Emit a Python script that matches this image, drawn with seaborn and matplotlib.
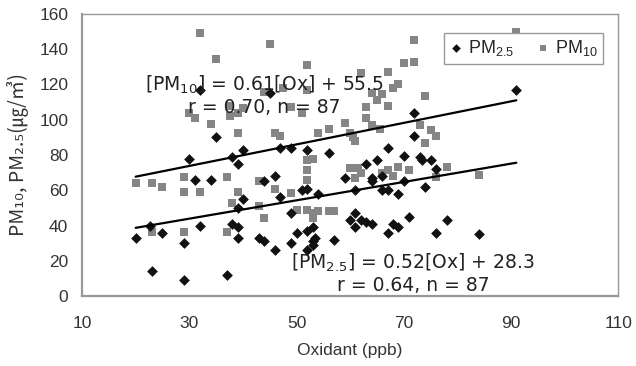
import matplotlib
matplotlib.use("Agg")
import matplotlib.pyplot as plt
import seaborn as sns
import numpy as np
import pandas as pd

# ---- data ----
pm25_x = [20, 22.6, 23, 25, 29, 29, 30, 31, 32, 32, 34, 35, 37, 38, 38, 39, 39, 39, 39, 40,
          40, 43, 44, 44, 45, 46, 46, 47, 47, 49, 49, 49, 50, 51, 52, 52, 52, 52, 53, 53,
          54, 53.5, 53, 56, 57, 59, 61, 60, 61, 61, 62, 63, 64, 63, 64, 64, 65, 66, 66, 67,
          67, 67, 68, 69, 69, 70, 70, 71, 72, 72, 73, 73.5, 75, 74, 76, 76, 78, 84, 91]
pm25_y = [33, 40, 14, 36, 30, 9, 78, 66, 40, 117, 66, 90, 12, 41, 79, 39, 33, 50, 75, 55,
          83, 33, 31, 65, 115, 68, 26, 56, 84, 84, 30, 47, 36, 60, 61, 37, 26, 83, 39, 29,
          58, 33, 31, 81, 32, 67, 60, 43, 47, 39, 43, 42, 41, 75, 67, 65, 77, 68, 60, 60,
          84, 36, 41, 39, 58, 65, 79.5, 45, 104, 91, 79, 77, 77, 62, 72, 36, 43, 35, 117]

pm10_x = [20, 23, 25, 29, 29, 23, 29, 30, 31, 32, 32, 34, 35, 37, 37, 37.6, 37.6, 38, 39, 39,
          39, 40, 43, 43, 44, 44, 45, 46, 46, 47, 47.5, 49, 49, 50, 51, 52, 52, 52, 52, 52,
          52, 53, 53, 54, 53, 54, 56, 56, 57, 59, 60, 60.5, 61, 60, 61.5, 61, 62, 62, 63, 63,
          64, 64, 65, 65.6, 66, 67, 67, 67, 68, 69, 69, 70, 72, 72, 71, 73, 74, 75, 76, 74,
          76, 78, 84, 91, 66, 68]
pm10_y = [64, 64, 62, 67.5, 59, 36.5, 36.5, 104, 101, 149, 59, 97.6, 134.5, 67.5, 36.5, 108, 102, 53, 104, 59,
          92.5, 106.6, 65, 51, 44, 116, 143, 92.5, 61, 91, 118, 107, 58.5, 49, 104, 131, 117, 77, 71.5, 66,
          49, 47, 44, 48, 78, 92.5, 95, 48, 48, 98, 92.5, 90, 88, 72.6, 72.6, 67, 70, 126.5, 107, 101,
          97, 115, 111, 94.6, 114.6, 127, 108, 71.5, 118, 120, 73, 132, 133, 145, 71.5, 97, 113.6, 94, 91, 87,
          67.5, 73, 68.7, 150, 70, 68]

series_names = ["PM$_{2.5}$", "PM$_{10}$"]
fit_slope = [0.52, 0.61]
fit_intercept = [28.3, 55.5]
fit_xrange = [20, 91]
eq_texts = ["[PM$_{2.5}$] = 0.52[Ox] + 28.3\nr = 0.64, n = 87",
            "[PM$_{10}$] = 0.61[Ox] + 55.5\nr = 0.70, n = 87"]
x_ticks = [10, 30, 50, 70, 90, 110]
y_ticks = [0, 20, 40, 60, 80, 100, 120, 140, 160]
x_label = "Oxidant (ppb)"
y_label = "PM\u2081\u2080, PM\u2082.\u2085(㎍/㎥)"

# ---- style ----
sns.set_theme(style="white")
plt.rcParams['font.family'] = ['Liberation Sans', 'DejaVu Sans', 'Noto Sans CJK KR']
plt.rcParams['mathtext.fontset'] = 'custom'
plt.rcParams['mathtext.rm'] = 'DejaVu Sans'
plt.rcParams['mathtext.default'] = 'regular'

fig = plt.figure(figsize=(6.36, 3.66), dpi=100)
ax = fig.add_axes([0.129, 0.191, 0.843, 0.771])

df10 = pd.DataFrame({"x": pm10_x, "y": pm10_y})
df25 = pd.DataFrame({"x": pm25_x, "y": pm25_y})

sns.scatterplot(data=df10, x="x", y="y", ax=ax, marker="s", color="#858585",
                s=38, linewidth=0, zorder=2, label=series_names[1])
sns.scatterplot(data=df25, x="x", y="y", ax=ax, marker="D", color="#111111",
                s=30, linewidth=0, zorder=3, label=series_names[0])

for m, b in zip(fit_slope, fit_intercept):
    xs = np.array(fit_xrange, dtype=float)
    sns.lineplot(x=xs, y=m * xs + b, ax=ax, color="black", linewidth=1.6, zorder=4)

eq_font = ['DejaVu Sans']
ax.text(71.75, 12.8, eq_texts[0], ha="center", va="center", multialignment="center",
        fontsize=13.5, color="#222222", linespacing=1.12, zorder=5, family=eq_font)
ax.text(44.0, 113.8, eq_texts[1], ha="center", va="center", multialignment="center",
        fontsize=13.5, color="#222222", linespacing=1.12, zorder=5, family=eq_font)

ax.set_xlim(x_ticks[0], x_ticks[-1])
ax.set_ylim(y_ticks[0], y_ticks[-1])
ax.set_xticks(x_ticks)
ax.set_yticks(y_ticks)
ax.tick_params(axis="x", direction="in", length=3, color="#999999", labelsize=12.5,
               labelcolor="#333333", pad=14)
ax.tick_params(axis="y", length=0, labelsize=12.5, labelcolor="#333333", pad=10)

for side, sp in ax.spines.items():
    sp.set_visible(True)
    sp.set_color("#999999")
    sp.set_linewidth(1.6 if side in ("left", "bottom") else 1.0)

ax.set_xlabel(x_label, fontsize=12.5, color="#333333", labelpad=9)
ax.set_ylabel(y_label, fontsize=14, color="#333333", labelpad=7,
              family=['Noto Sans CJK KR', 'DejaVu Sans'])

handles, labels = ax.get_legend_handles_labels()
order = [labels.index(series_names[0]), labels.index(series_names[1])]
leg = ax.legend([handles[i] for i in order], [labels[i] for i in order],
                loc="upper right", bbox_to_anchor=(0.972, 0.933), borderaxespad=0,
                ncol=2, fontsize=13, frameon=True, fancybox=False, framealpha=1,
                edgecolor="#999999", handletextpad=0.25, columnspacing=1.2,
                handlelength=0.8, borderpad=0.3, markerscale=0.8)
leg.get_frame().set_linewidth(1.0)

fig.savefig("out.png", dpi=100)
